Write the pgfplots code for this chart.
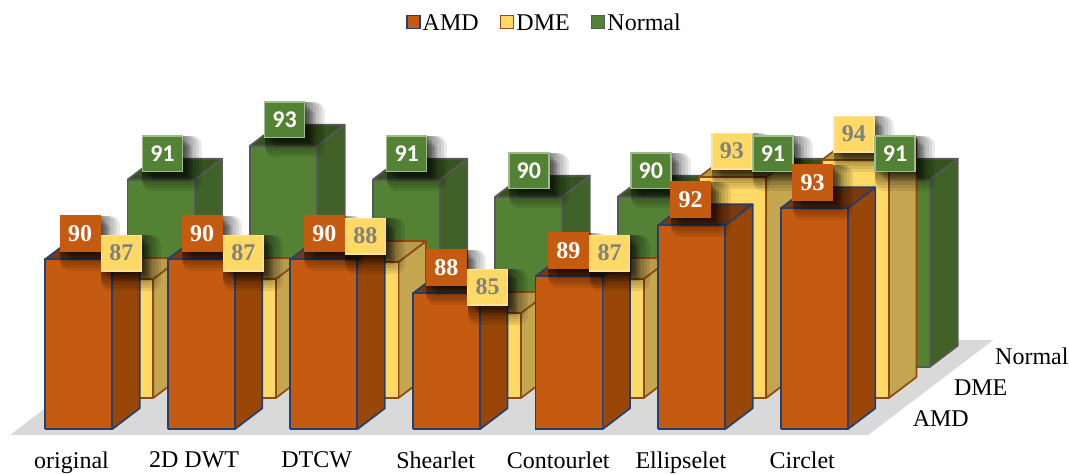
\documentclass[border=0pt]{standalone}
\usepackage{fontspec}
\setmainfont{Liberation Serif}
\newfontfamily\calib{Carlito}
\usepackage{pgfplots}
\pgfplotsset{compat=1.18}

\definecolor{amdF}{HTML}{C55A11}
\definecolor{amdS}{HTML}{994709}
\definecolor{amdT}{HTML}{7A3A0E}
\definecolor{amdL}{HTML}{25406F}
\definecolor{dmeF}{HTML}{FFD966}
\definecolor{dmeS}{HTML}{C4A650}
\definecolor{dmeT}{HTML}{B89B4C}
\definecolor{dmeL}{HTML}{8F4A10}
\definecolor{norF}{HTML}{548235}
\definecolor{norS}{HTML}{406128}
\definecolor{norT}{HTML}{35521F}
\definecolor{norL}{HTML}{595959}

\newcommand{\bw}{0.5465}
\newcommand{\bd}{0.67}

% one bar: category, row, value, series prefix
\newcommand{\Bar}[4]{%
  \addplot3[forget plot,no markers,fill=#4S,draw=#4L,line width=1.7pt,line join=round]
    coordinates {(#1+\bw,#2,80)(#1+\bw,#2+\bd,80)(#1+\bw,#2+\bd,#3)(#1+\bw,#2,#3)(#1+\bw,#2,80)};
  \addplot3[forget plot,no markers,fill=#4T,draw=#4L,line width=1.7pt,line join=round]
    coordinates {(#1,#2,#3)(#1+\bw,#2,#3)(#1+\bw,#2+\bd,#3)(#1,#2+\bd,#3)(#1,#2,#3)};
  \addplot3[forget plot,no markers,fill=#4F,draw=#4L,line width=1.7pt,line join=round]
    coordinates {(#1,#2,80)(#1+\bw,#2,80)(#1+\bw,#2,#3)(#1,#2,#3)(#1,#2,80)};
}

\tikzset{
  sh/.style={preaction={fill=black,draw=black,opacity=.085,line width=#1pt,line join=round,
    transform canvas={shift={(#1/2*1pt,-#1/2*1pt)}}}},
  soft/.style={sh=20,sh=17,sh=14,sh=11,sh=8,sh=5,sh=2},
  lab/.style={soft,minimum width=40pt,minimum height=35.5pt,inner sep=0pt,anchor=center},
  labamd/.style={lab,fill=amdF,draw=amdF,line width=1pt,text=white,font=\fontsize{24}{26}\selectfont\bfseries},
  labdme/.style={lab,fill=dmeF,draw=dmeF!70!white,line width=1.5pt,text=black!50,font=\fontsize{24}{26}\selectfont\bfseries},
  labnor/.style={lab,fill=norF,draw=norF!55!white,line width=1.5pt,text=white,font=\fontsize{24}{26}\calib\bfseries},
}
% value label: category, row, value, style
\newcommand{\Lab}[4]{\node[#4,xshift={35pt-0.5pt*#1},yshift=26pt] at (axis cs:#1,#2,#3) {#3};}

\begin{document}
\begin{tikzpicture}
\useasboundingbox (0,0) rectangle (1069pt,474pt);
\begin{axis}[
    at={(10pt,39pt)},
    anchor=south west,
    x={(122.6pt,0pt)},
    y={(41.2pt,31.3pt)},
    z={(0pt,17pt)},
    xmin=-0.225, xmax=6.775,
    ymin=-0.182, ymax=2.853,
    zmin=80, zmax=95,
    clip=false,
    axis line style={draw=none},
    tick style={draw=none},
    xtick={0.277,1.277,2.277,3.247,4.247,5.247,6.237},
    xticklabels={original,2D DWT,DTCW,Shearlet,Contourlet,Ellipselet,Circlet},
    ytick={0.33,1.33,2.33},
    yticklabels={AMD,DME,Normal},
    ztick=\empty,
    yticklabel pos=left,
    tick label style={font=\fontsize{24}{26}\selectfont},
    x tick label style={anchor=north,yshift=-13.5pt},
    y tick label style={anchor=west,xshift=20pt},
    legend style={at={(axis description cs:0.5435,1.18)},anchor=center,draw=none,fill=none,
      font=\fontsize{24}{26}\selectfont,
      nodes={text height=16pt,text depth=0pt},
      /tikz/every even column/.append style={column sep=19pt}},
    legend columns=3,
    legend image code/.code={\draw[#1] (0pt,-6.5pt) rectangle (13pt,6.5pt);},
]
\addlegendimage{fill=amdF,draw=amdL,line width=1.7pt}
\addlegendentry{AMD}
\addlegendimage{fill=dmeF,draw=dmeL,line width=1.7pt}
\addlegendentry{DME}
\addlegendimage{fill=norF,draw=norL,line width=1.7pt}
\addlegendentry{Normal}

% floor
\addplot3[forget plot,no markers,fill=black!15,draw=none]
  coordinates {(-0.225,-0.182,80)(6.775,-0.182,80)(6.775,2.853,80)(-0.225,2.853,80)(-0.225,-0.182,80)};

% Normal row
\Bar{0}{2}{91}{nor}
\Bar{1}{2}{93}{nor}
\Bar{2}{2}{91}{nor}
\Bar{3}{2}{90}{nor}
\Bar{4}{2}{90}{nor}
\Bar{5}{2}{91}{nor}
\Bar{6}{2}{91}{nor}
% DME row
\Bar{0}{1}{87}{dme}
\Bar{1}{1}{87}{dme}
\Bar{2}{1}{88}{dme}
\Bar{3}{1}{85}{dme}
\Bar{4}{1}{87}{dme}
\Bar{5}{1}{93}{dme}
\Bar{6}{1}{94}{dme}
% AMD row
\Bar{0}{0}{90}{amd}
\Bar{1}{0}{90}{amd}
\Bar{2}{0}{90}{amd}
\Bar{3}{0}{88}{amd}
\Bar{4}{0}{89}{amd}
\Bar{5}{0}{92}{amd}
\Bar{6}{0}{93}{amd}

% labels, category by category
\Lab{0}{0}{90}{labamd}\Lab{0}{1}{87}{labdme}\Lab{0}{2}{91}{labnor}
\Lab{1}{0}{90}{labamd}\Lab{1}{1}{87}{labdme}\Lab{1}{2}{93}{labnor}
\Lab{2}{0}{90}{labamd}\Lab{2}{1}{88}{labdme}\Lab{2}{2}{91}{labnor}
\Lab{3}{0}{88}{labamd}\Lab{3}{1}{85}{labdme}\Lab{3}{2}{90}{labnor}
\Lab{4}{0}{89}{labamd}\Lab{4}{1}{87}{labdme}\Lab{4}{2}{90}{labnor}
\Lab{5}{0}{92}{labamd}\Lab{5}{1}{93}{labdme}\Lab{5}{2}{91}{labnor}
\Lab{6}{0}{93}{labamd}\Lab{6}{1}{94}{labdme}\Lab{6}{2}{91}{labnor}
\end{axis}
\end{tikzpicture}
\end{document}
